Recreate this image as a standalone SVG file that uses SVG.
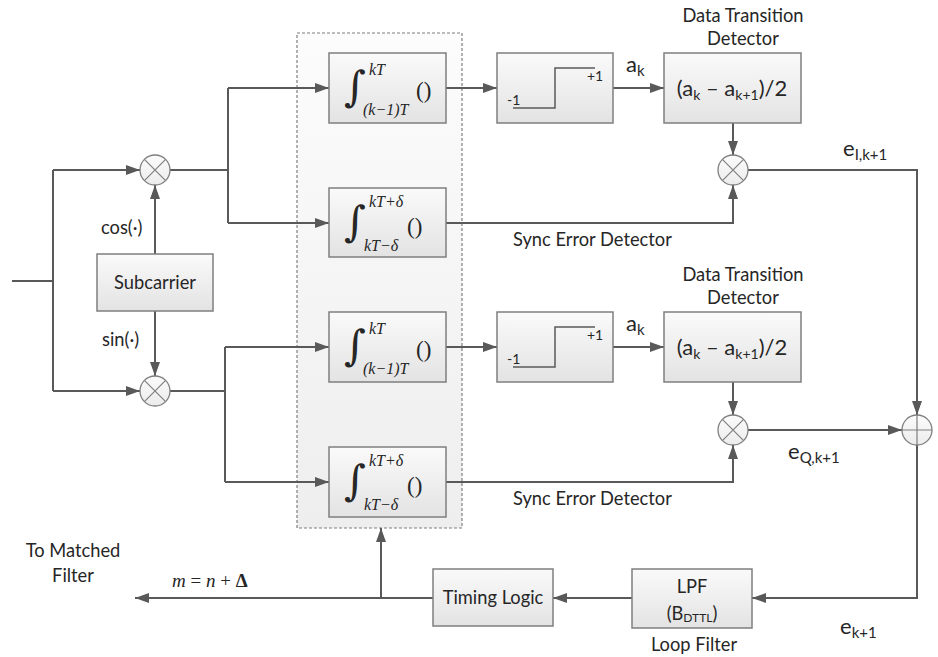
<svg xmlns="http://www.w3.org/2000/svg" width="938" height="657" viewBox="0 0 938 657">
<defs>
<linearGradient id="gb" x1="0" y1="0" x2="0" y2="1"><stop offset="0" stop-color="#fafafa"/><stop offset="1" stop-color="#e3e3e3"/></linearGradient>
<linearGradient id="gc" x1="0" y1="0" x2="0" y2="1"><stop offset="0" stop-color="#fbfbfb"/><stop offset="1" stop-color="#ececec"/></linearGradient>
<linearGradient id="gd" x1="0" y1="0" x2="0" y2="1"><stop offset="0" stop-color="#fcfcfc"/><stop offset="1" stop-color="#eeeeee"/></linearGradient>
<marker id="ah" viewBox="0 0 14 10" markerUnits="userSpaceOnUse" markerWidth="14" markerHeight="10" refX="14" refY="5" orient="auto"><path d="M0,0 L14,5 L0,10 z" fill="#595959"/></marker>
<style>
.box{fill:url(#gb);stroke:#7f7f7f;stroke-width:1.5}
.cir{fill:url(#gc);stroke:#7f7f7f;stroke-width:1.3}
.x{stroke:#7f7f7f;stroke-width:1.2;fill:none}
.ln{stroke:#595959;stroke-width:2;fill:none}
.ar{stroke:#595959;stroke-width:2;fill:none;marker-end:url(#ah)}
.st{stroke:#595959;stroke-width:1.5;fill:none}
.t{font-family:Lato,"Liberation Sans",sans-serif;font-size:18.3px;fill:#262626}
.tm{text-anchor:middle}
.big{font-family:Lato,"Liberation Sans",sans-serif;font-size:22px;fill:#262626}
.sm{font-family:Lato,"Liberation Sans",sans-serif;font-size:14px;fill:#262626}
.mi{font-family:"Liberation Serif",serif;font-style:italic;font-size:16px;fill:#262626}
.ig{font-family:"DejaVu Serif",serif;font-size:42px;fill:#262626}
.pa{font-family:"Liberation Serif",serif;font-size:23px;fill:#262626}
</style>
</defs>

<g id="container">
<rect x="297" y="33" width="165" height="495" fill="url(#gd)" stroke="#7f7f7f" stroke-width="1.2" stroke-dasharray="3,2"/>
</g>

<g id="connectors">
<path class="ln" d="M12,281 H53 M53,170 V391"/>
<path class="ar" d="M53,170 H140"/>
<path class="ar" d="M53,391 H140"/>
<path class="ar" d="M155,254 V185"/>
<path class="ar" d="M155,311 V376"/>
<path class="ln" d="M170,170 H228 M228,88 V223"/>
<path class="ar" d="M228,88 H329"/>
<path class="ar" d="M228,223 H329"/>
<path class="ln" d="M170,391 H225 M225,347 V482"/>
<path class="ar" d="M225,347 H329"/>
<path class="ar" d="M225,482 H329"/>
<path class="ar" d="M446,88 H497"/>
<path class="ar" d="M613,88 H664"/>
<path class="ar" d="M733,123 V155"/>
<path class="ar" d="M446,223 H733 V185"/>
<path class="ar" d="M446,347 H497"/>
<path class="ar" d="M613,347 H664"/>
<path class="ar" d="M733,382 V415"/>
<path class="ar" d="M446,482 H733 V445"/>
<path class="ar" d="M748,170 H917 V415"/>
<path class="ar" d="M748,430 H902"/>
<path class="ar" d="M917,445 V598 H752"/>
<path class="ar" d="M632,598 H553"/>
<path class="ar" d="M433,598 H135"/>
<path class="ar" d="M381,598 V528"/>
</g>

<g id="mult-cos">
<circle class="cir" cx="155" cy="170" r="15"/>
<path class="x" d="M144.4,159.4 L165.6,180.6 M165.6,159.4 L144.4,180.6"/>
</g>
<g id="mult-sin">
<circle class="cir" cx="155" cy="391" r="15"/>
<path class="x" d="M144.4,380.4 L165.6,401.6 M165.6,380.4 L144.4,401.6"/>
</g>
<g id="subcarrier">
<rect class="box" x="97" y="254" width="116" height="57"/>
<text class="t tm" x="155" y="289">Subcarrier</text>
</g>
<text class="t" x="101" y="234">cos(·)</text>
<text class="t" x="102" y="346">sin(·)</text>

<g id="int-i">
<rect class="box" x="329" y="53" width="117" height="70"/>
<text class="ig" x="344" y="101">∫</text>
<text class="mi" x="369" y="75">kT</text>
<text class="mi" x="363" y="115">(k−1)T</text>
<text class="pa" x="416" y="98">()</text>
</g>
<g id="sync-int-i">
<rect class="box" x="329" y="188" width="117" height="69"/>
<text class="ig" x="344" y="236">∫</text>
<text class="mi" x="369" y="207">kT+δ</text>
<text class="mi" x="364" y="251">kT−δ</text>
<text class="pa" x="407" y="234">()</text>
</g>
<g id="int-q">
<rect class="box" x="329" y="312" width="117" height="70"/>
<text class="ig" x="344" y="360">∫</text>
<text class="mi" x="369" y="334">kT</text>
<text class="mi" x="363" y="374">(k−1)T</text>
<text class="pa" x="416" y="357">()</text>
</g>
<g id="sync-int-q">
<rect class="box" x="329" y="447" width="117" height="70"/>
<text class="ig" x="344" y="495">∫</text>
<text class="mi" x="369" y="466">kT+δ</text>
<text class="mi" x="364" y="510">kT−δ</text>
<text class="pa" x="407" y="493">()</text>
</g>

<g id="sign-i">
<rect class="box" x="497" y="53" width="116" height="70"/>
<path class="st" d="M513,108 H555 V68 H595"/>
<text class="sm" x="507" y="105">-1</text>
<text class="sm" x="587" y="81">+1</text>
</g>
<g id="sign-q">
<rect class="box" x="497" y="312" width="116" height="70"/>
<path class="st" d="M513,367 H555 V327 H595"/>
<text class="sm" x="507" y="364">-1</text>
<text class="sm" x="587" y="340">+1</text>
</g>
<text class="big" x="626" y="72">a<tspan font-size="15" dy="4">k</tspan></text>
<text class="big" x="626" y="331">a<tspan font-size="15" dy="4">k</tspan></text>

<g id="dtd-i">
<rect class="box" x="664" y="53" width="137" height="70"/>
<text class="big tm" x="732" y="96">(a<tspan font-size="14" dy="4">k</tspan><tspan dy="-4"> – a</tspan><tspan font-size="14" dy="4">k+1</tspan><tspan dy="-4">)/2</tspan></text>
<text class="t tm" x="743" y="22">Data Transition</text>
<text class="t tm" x="743" y="45">Detector</text>
</g>
<g id="dtd-q">
<rect class="box" x="664" y="312" width="137" height="70"/>
<text class="big tm" x="732" y="355">(a<tspan font-size="14" dy="4">k</tspan><tspan dy="-4"> – a</tspan><tspan font-size="14" dy="4">k+1</tspan><tspan dy="-4">)/2</tspan></text>
<text class="t tm" x="743" y="281">Data Transition</text>
<text class="t tm" x="743" y="304">Detector</text>
</g>

<g id="mult-i">
<circle class="cir" cx="733" cy="170" r="15"/>
<path class="x" d="M722.4,159.4 L743.6,180.6 M743.6,159.4 L722.4,180.6"/>
</g>
<g id="mult-q">
<circle class="cir" cx="733" cy="430" r="15"/>
<path class="x" d="M722.4,419.4 L743.6,440.6 M743.6,419.4 L722.4,440.6"/>
</g>
<g id="sum">
<circle class="cir" cx="917" cy="430" r="15"/>
<path class="x" d="M902,430 H932 M917,415 V445"/>
</g>

<text class="t" x="513" y="246">Sync Error Detector</text>
<text class="t" x="513" y="505">Sync Error Detector</text>
<text class="big" x="843" y="156">e<tspan font-size="15" dy="4">I,k+1</tspan></text>
<text class="big" x="788" y="459">e<tspan font-size="15" dy="4">Q,k+1</tspan></text>
<text class="big" x="840" y="634">e<tspan font-size="15" dy="4">k+1</tspan></text>

<g id="lpf">
<rect class="box" x="632" y="569" width="120" height="59"/>
<text class="t tm" x="692" y="593">LPF</text>
<text class="t tm" x="692" y="620">(B<tspan font-size="12" dy="2">DTTL</tspan><tspan dy="-2">)</tspan></text>
</g>
<text class="t tm" x="694" y="651">Loop Filter</text>

<g id="timing">
<rect class="box" x="433" y="569" width="120" height="57"/>
<text class="t tm" x="493" y="604">Timing Logic</text>
</g>

<text class="t tm" x="73" y="557">To Matched</text>
<text class="t tm" x="73" y="582">Filter</text>
<text x="172" y="587" font-family="Liberation Serif,serif" font-size="19" fill="#262626"><tspan font-style="italic">m</tspan> = <tspan font-style="italic">n</tspan> + <tspan font-weight="bold">Δ</tspan></text>
</svg>
